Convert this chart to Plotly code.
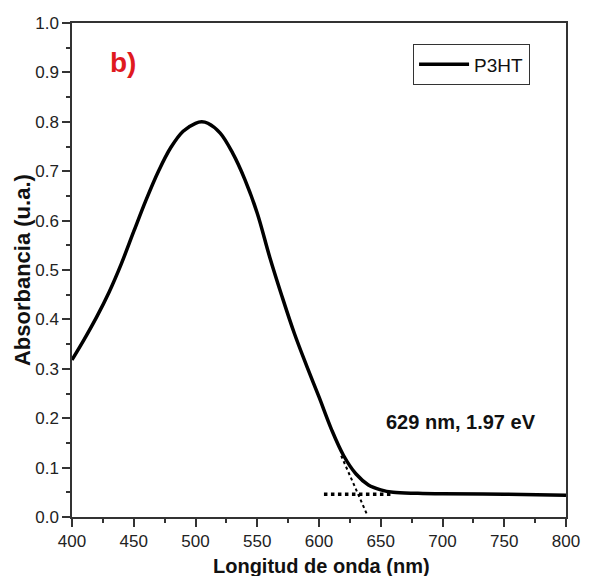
import plotly.graph_objects as go

wavelength = [400, 410, 420, 430, 440, 450, 460, 470, 480, 490, 500, 505, 510, 520, 530, 540,
              550, 560, 570, 580, 590, 600, 610, 620, 630, 640, 650, 660, 680, 700, 750, 800]
absorbance = [0.318, 0.360, 0.405, 0.455, 0.513, 0.578, 0.642, 0.700, 0.748, 0.781, 0.797, 0.800,
              0.797, 0.777, 0.737, 0.683, 0.615, 0.527, 0.447, 0.372, 0.306, 0.243, 0.178, 0.124,
              0.087, 0.065, 0.055, 0.050, 0.048, 0.047, 0.046, 0.044]

baseline_x = [604, 660]
baseline_y = [0.046, 0.046]
tangent_x = [618, 638.5]
tangent_y = [0.124, 0.007]

x_ticks = [400, 450, 500, 550, 600, 650, 700, 750, 800]
y_ticks = [0.0, 0.1, 0.2, 0.3, 0.4, 0.5, 0.6, 0.7, 0.8, 0.9, 1.0]

FONT = "Liberation Sans, Arial"

fig = go.Figure()
fig.add_trace(go.Scatter(x=baseline_x, y=baseline_y, mode="lines", showlegend=False,
                         line=dict(color="black", width=3.5, dash="dot")))
fig.add_trace(go.Scatter(x=tangent_x, y=tangent_y, mode="lines", showlegend=False,
                         line=dict(color="black", width=2, dash="dot")))
fig.add_trace(go.Scatter(x=wavelength, y=absorbance, mode="lines", name="P3HT",
                         line=dict(color="black", width=3.5, shape="spline")))

axis_common = dict(showline=True, linecolor="#333", linewidth=1.5, mirror=True,
                   ticks="outside", tickcolor="#333", tickwidth=1.5, ticklen=8,
                   showgrid=False, zeroline=False, automargin=False,
                   ticklabeloverflow="allow",
                   tickfont=dict(family=FONT, size=17, color="#222"))

# the page body has an 8px default margin, so the figure is sized to fit inside it
fig.update_layout(
    width=573, height=568,
    margin=dict(l=64, r=15, t=15, b=59),
    plot_bgcolor="white", paper_bgcolor="white",
    font=dict(family=FONT, color="#111"),
    xaxis=dict(range=[400, 800], tickvals=x_ticks,
               minor=dict(ticks="outside", ticklen=4, tickcolor="#333", dtick=25, tick0=400),
               **axis_common),
    yaxis=dict(range=[0, 1.0], tickvals=y_ticks, tickformat=".1f",
               minor=dict(ticks="outside", ticklen=4, tickcolor="#333", dtick=0.05, tick0=0),
               **axis_common),
    legend=dict(x=0.69, y=0.957, xanchor="left", yanchor="top",
                bordercolor="#333", borderwidth=1.2, bgcolor="white",
                font=dict(family=FONT, size=19, color="#111"), tracegroupgap=0,
                itemwidth=50),
    annotations=[
        dict(x=441, y=0.92, xref="x", yref="y", text="<b>b)</b>", showarrow=False,
             font=dict(family=FONT, size=28, color="#e0191f")),
        dict(x=715, y=0.192, xref="x", yref="y", text="<b>629 nm, 1.97 eV</b>", showarrow=False,
             font=dict(family=FONT, size=20, color="#111")),
        dict(x=0.505, y=-0.099, xref="paper", yref="paper", yanchor="middle",
             text="<b>Longitud de onda (nm)</b>", showarrow=False,
             font=dict(family=FONT, size=20, color="#111")),
        dict(x=-0.101, y=0.5, xref="paper", yref="paper", xanchor="center",
             text="<b>Absorbancia (u.a.)</b>", showarrow=False, textangle=-90,
             font=dict(family=FONT, size=22, color="#111")),
    ],
)

fig.write_html("out.html")
